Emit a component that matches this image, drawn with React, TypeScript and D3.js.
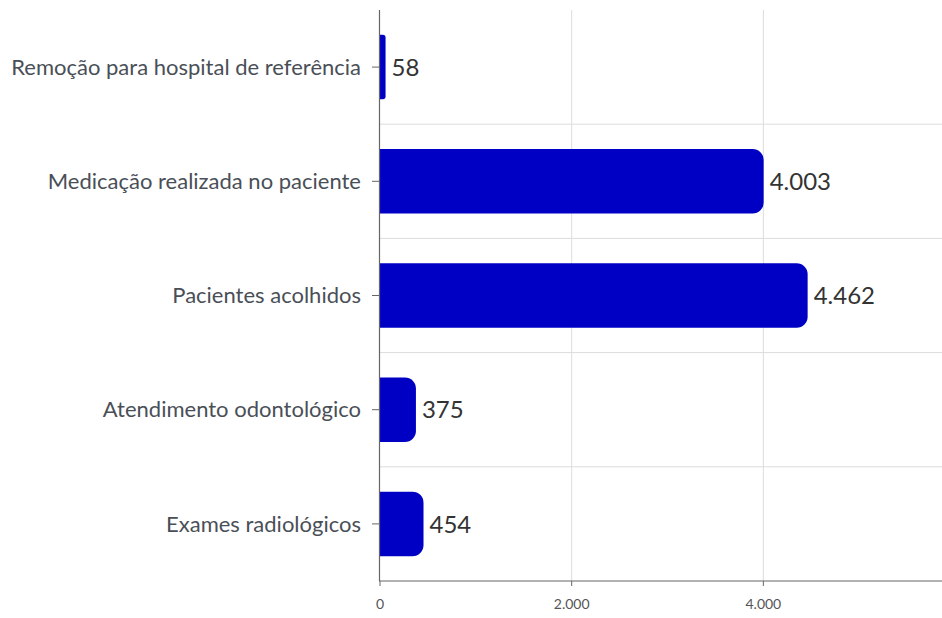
import React from "react";
import * as d3 from "d3";

const categories = [
  "Remoção para hospital de referência",
  "Medicação realizada no paciente",
  "Pacientes acolhidos",
  "Atendimento odontológico",
  "Exames radiológicos",
];
const values = [58, 4003, 4462, 375, 454];
const xTicks = [0, 2000, 4000];

const W = 942;
const H = 618;
const M = { left: 380, right: 0, top: 10, bottom: 37 };

const fmt = (v: number) => d3.format(",")(v).replace(/,/g, ".");

function barPath(x0: number, y0: number, w: number, h: number, r: number) {
  const rr = Math.min(r, w / 2, h / 2);
  return `M${x0},${y0}H${x0 + w - rr}A${rr},${rr} 0 0 1 ${x0 + w},${y0 + rr}V${y0 + h - rr}A${rr},${rr} 0 0 1 ${x0 + w - rr},${y0 + h}H${x0}Z`;
}

export default function App() {
  const x = d3.scaleLinear().domain([0, 5864]).range([M.left, W - M.right]);
  const y = d3.scaleBand<string>().domain(categories).range([M.top, H - M.bottom]).paddingInner(0).paddingOuter(0);
  const bh = y.bandwidth() * 0.565;
  const bottom = H - M.bottom;
  return (
    <svg width={W} height={H} style={{ position: "absolute", left: 0, top: 0, background: "#fff" }}>
      {categories.slice(1).map((c) => (
        <line key={"h" + c} x1={M.left} x2={W} y1={y(c)!} y2={y(c)!} stroke="#dcdcdc" strokeWidth={1} />
      ))}
      {xTicks.slice(1).map((t) => (
        <line key={"v" + t} x1={x(t)} x2={x(t)} y1={M.top} y2={bottom} stroke="#dcdcdc" strokeWidth={1} />
      ))}
      {categories.map((c, i) => {
        const yc = y(c)! + y.bandwidth() / 2;
        return (
          <path key={"b" + c} d={barPath(x(0), yc - bh / 2, x(values[i]) - x(0), bh, 11)} fill="#0000c4" />
        );
      })}
      {categories.map((c, i) => {
        const yc = y(c)! + y.bandwidth() / 2;
        return (
          <text key={"l" + c} x={x(values[i]) + 6} y={yc} dy="0.36em" fontFamily="Lato, sans-serif" fontSize={24} fill="#333">
            {fmt(values[i])}
          </text>
        );
      })}
      <line x1={M.left - 0.5} x2={M.left - 0.5} y1={M.top} y2={bottom} stroke="#666" strokeWidth={1.2} />
      {categories.map((c) => {
        const yc = y(c)! + y.bandwidth() / 2;
        return (
          <g key={"yt" + c}>
            <line x1={M.left - 8} x2={M.left} y1={yc} y2={yc} stroke="#666" strokeWidth={1} />
            <text x={M.left - 19} y={yc} dy="0.35em" textAnchor="end" fontFamily="Lato, sans-serif" fontSize={22} fill="#4a4f57">
              {c}
            </text>
          </g>
        );
      })}
      <line x1={M.left - 1} x2={W} y1={bottom} y2={bottom} stroke="#666" strokeWidth={1.2} />
      {xTicks.map((t) => (
        <g key={"xt" + t}>
          <line x1={x(t)} x2={x(t)} y1={bottom} y2={bottom + 5} stroke="#666" strokeWidth={1} />
          <text x={x(t)} y={bottom + 23} textAnchor="middle" dy="0.35em" fontFamily="Lato, sans-serif" fontSize={14} fill="#555">
            {fmt(t)}
          </text>
        </g>
      ))}
    </svg>
  );
}
